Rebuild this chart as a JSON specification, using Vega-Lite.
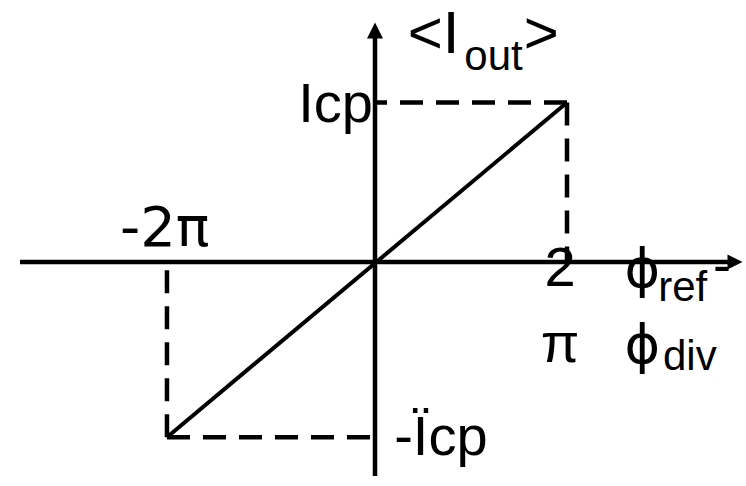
{
  "$schema": "https://vega.github.io/schema/vega-lite/v6.json",
  "width": 746,
  "height": 486,
  "padding": 0,
  "autosize": {"type": "fit", "contains": "padding"},
  "background": "white",
  "config": {"view": {"stroke": null}},
  "datasets": {
    "axes": [
      {"seg": "h", "ord": 0, "x": -3.698, "y": 0},
      {"seg": "h", "ord": 1, "x": 3.68, "y": 0},
      {"seg": "v", "ord": 0, "x": 0, "y": 1.41},
      {"seg": "v", "ord": 1, "x": 0, "y": -1.344}
    ],
    "arrowRight": [{"x": 3.75, "y": 0}],
    "arrowUp": [{"x": 0, "y": 1.453}],
    "guides": [
      {"seg": "top", "ord": 0, "x": 2, "y": 1},
      {"seg": "top", "ord": 1, "x": 0, "y": 1},
      {"seg": "right", "ord": 0, "x": 2, "y": 1},
      {"seg": "right", "ord": 1, "x": 2, "y": 0},
      {"seg": "left", "ord": 0, "x": -2.167, "y": -1.1},
      {"seg": "left", "ord": 1, "x": -2.167, "y": 0},
      {"seg": "bottom", "ord": 0, "x": -2.167, "y": -1.1},
      {"seg": "bottom", "ord": 1, "x": 0, "y": -1.1}
    ],
    "response": [
      {"x": -2.167, "y": -1.1},
      {"x": 2, "y": 1}
    ],
    "labels": [
      {"kind": "tickwide", "text": "-2π", "x": -2.19, "y": 0.1},
      {"kind": "tick", "text": "2", "x": 1.927, "y": -0.15},
      {"kind": "tick", "text": "π", "x": 1.927, "y": -0.625},
      {"kind": "phase", "text": "ϕ", "x": 2.6, "y": -0.156},
      {"kind": "phase", "text": "ϕ", "x": 2.6, "y": -0.6375},
      {"kind": "symbol", "text": "Icp", "x": -0.8, "y": 0.881},
      {"kind": "symbol", "text": "-Ïcp", "x": 0.2, "y": -1.2125},
      {"kind": "sub", "text": "ref", "x": 2.95, "y": -0.244},
      {"kind": "sub", "text": "div", "x": 3.0, "y": -0.681},
      {"kind": "sub", "text": "out", "x": 0.93, "y": 1.206},
      {"kind": "bracket", "text": "<I", "x": 0.34, "y": 1.3125},
      {"kind": "bracket", "text": ">", "x": 1.55, "y": 1.3125},
      {"kind": "minus", "text": "-", "x": 3.52, "y": -0.131}
    ]
  },
  "encoding": {
    "x": {"field": "x", "type": "quantitative", "axis": null,
          "scale": {"domain": [-3.90625, 3.864583], "nice": false, "zero": false}},
    "y": {"field": "y", "type": "quantitative", "axis": null,
          "scale": {"domain": [-1.39375, 1.64375], "nice": false, "zero": false}}
  },
  "layer": [
    {
      "data": {"name": "guides"},
      "mark": {"type": "line", "color": "black", "strokeWidth": 4.5, "strokeDash": [23, 13], "strokeCap": "butt"},
      "encoding": {"detail": {"field": "seg"}, "order": {"field": "ord", "type": "quantitative"}}
    },
    {
      "data": {"name": "axes"},
      "mark": {"type": "line", "color": "black", "strokeWidth": 4.5, "strokeCap": "butt"},
      "encoding": {"detail": {"field": "seg"}, "order": {"field": "ord", "type": "quantitative"}}
    },
    {
      "data": {"name": "arrowRight"},
      "mark": {"type": "point", "shape": "M-1,-1L1,0L-1,1Z", "filled": true, "size": 225, "color": "black", "opacity": 1}
    },
    {
      "data": {"name": "arrowUp"},
      "mark": {"type": "point", "shape": "M-1,1L0,-1L1,1Z", "filled": true, "size": 256, "color": "black", "opacity": 1}
    },
    {
      "data": {"name": "response"},
      "mark": {"type": "line", "color": "black", "strokeWidth": 4, "strokeCap": "butt"},
      "encoding": {}
    },
    {
      "data": {"name": "labels"},
      "transform": [{"filter": "datum.kind === 'tick'"}],
      "mark": {"type": "text", "font": "Liberation Sans", "fontSize": 56, "align": "center", "baseline": "alphabetic", "color": "black"},
      "encoding": {"text": {"field": "text"}}
    },
    {
      "data": {"name": "labels"},
      "transform": [{"filter": "datum.kind === 'tickwide'"}],
      "mark": {"type": "text", "font": "DejaVu Sans", "fontSize": 56, "align": "center", "baseline": "alphabetic", "color": "black"},
      "encoding": {"text": {"field": "text"}}
    },
    {
      "data": {"name": "labels"},
      "transform": [{"filter": "datum.kind === 'phase'"}],
      "mark": {"type": "text", "font": "DejaVu Sans", "fontSize": 54, "align": "left", "baseline": "alphabetic", "color": "black"},
      "encoding": {"text": {"field": "text"}}
    },
    {
      "data": {"name": "labels"},
      "transform": [{"filter": "datum.kind === 'symbol'"}],
      "mark": {"type": "text", "font": "Liberation Sans", "fontSize": 56, "align": "left", "baseline": "alphabetic", "color": "black"},
      "encoding": {"text": {"field": "text"}}
    },
    {
      "data": {"name": "labels"},
      "transform": [{"filter": "datum.kind === 'sub'"}],
      "mark": {"type": "text", "font": "Liberation Sans", "fontSize": 42, "align": "left", "baseline": "alphabetic", "color": "black"},
      "encoding": {"text": {"field": "text"}}
    },
    {
      "data": {"name": "labels"},
      "transform": [{"filter": "datum.kind === 'bracket'"}],
      "mark": {"type": "text", "font": "Liberation Sans", "fontSize": 60, "align": "left", "baseline": "alphabetic", "color": "black"},
      "encoding": {"text": {"field": "text"}}
    },
    {
      "data": {"name": "labels"},
      "transform": [{"filter": "datum.kind === 'minus'"}],
      "mark": {"type": "text", "font": "Liberation Sans", "fontSize": 54, "align": "left", "baseline": "alphabetic", "color": "black"},
      "encoding": {"text": {"field": "text"}}
    }
  ]
}
